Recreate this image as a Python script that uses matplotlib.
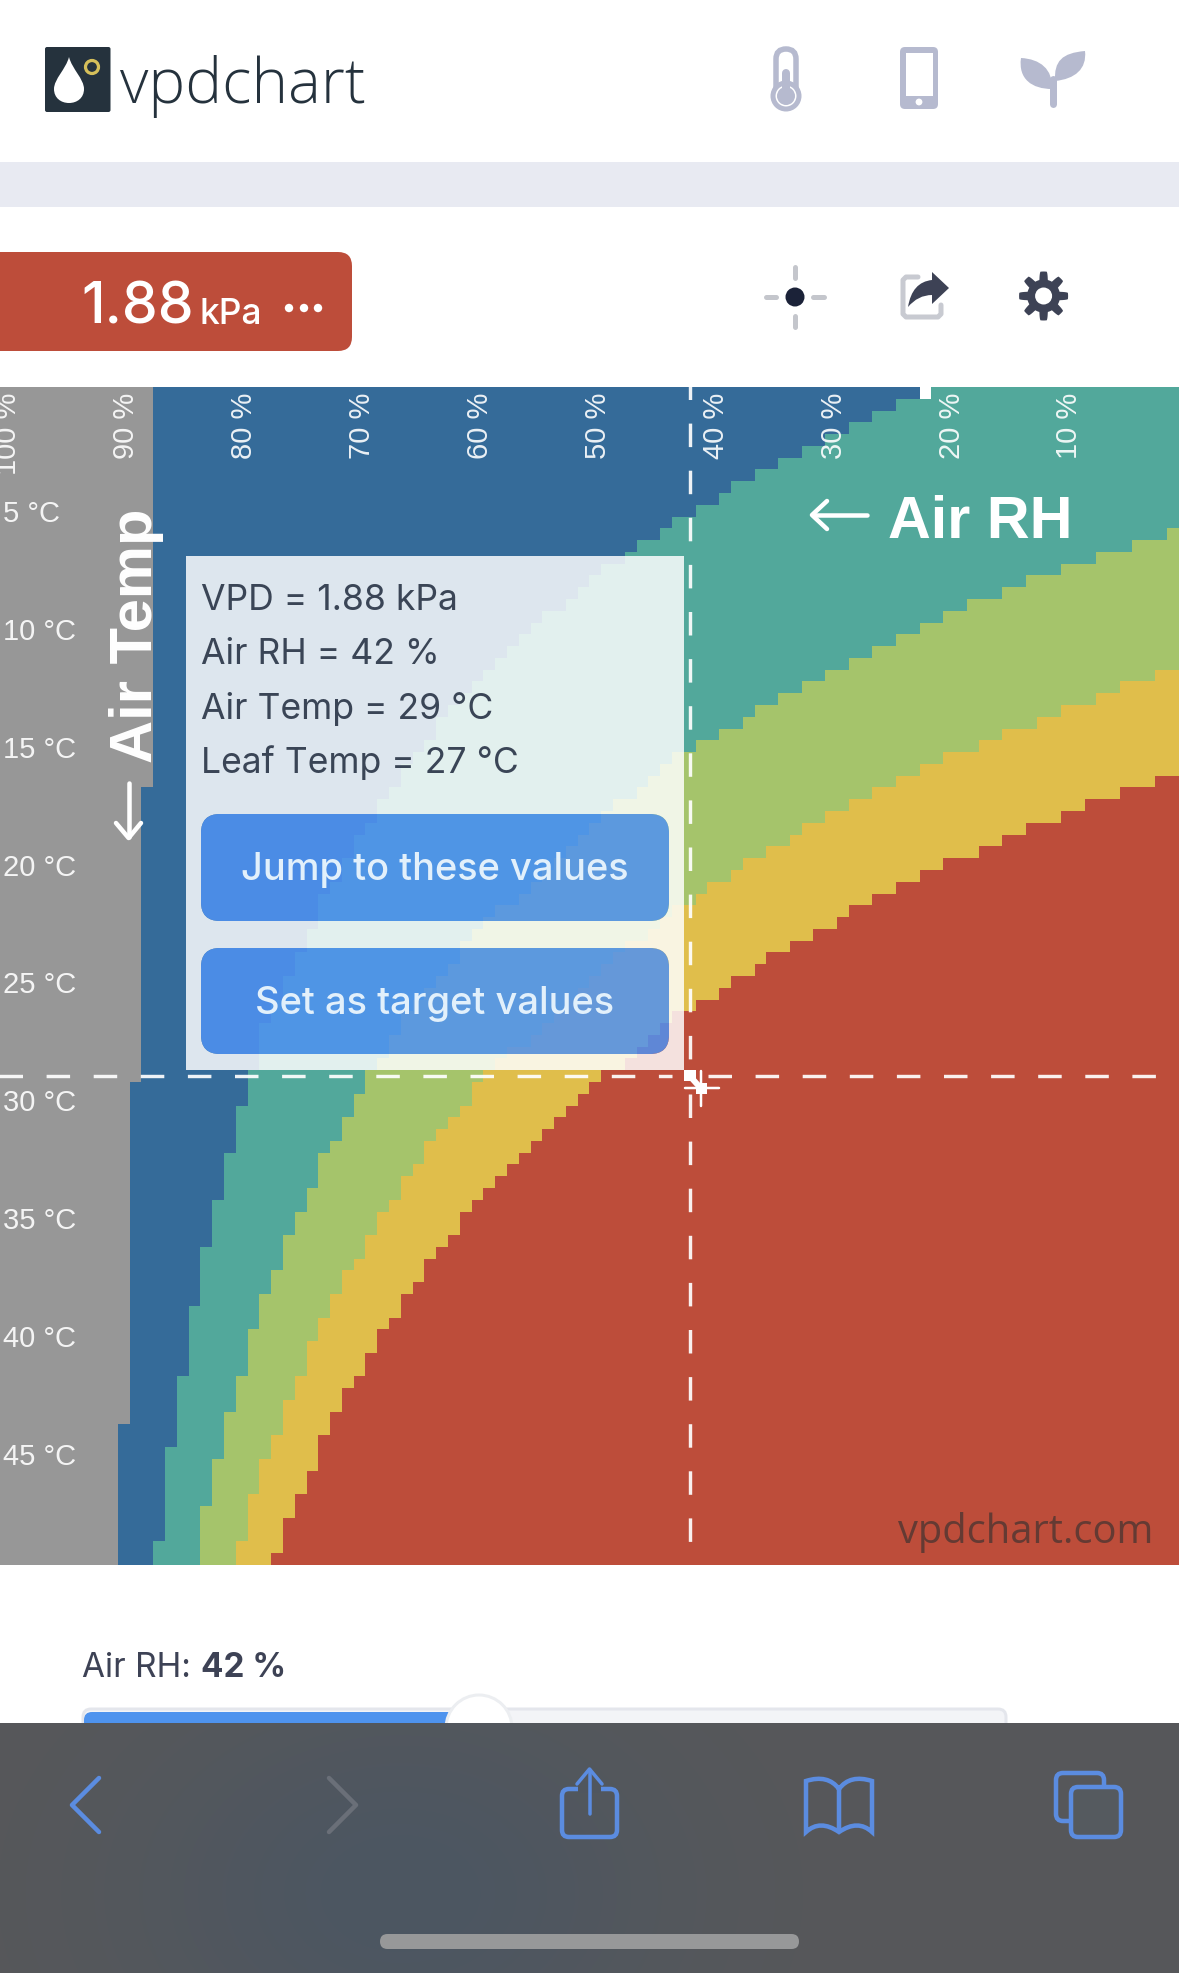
#!/bin/env python3
import numpy as np
import matplotlib
matplotlib.use('Agg')
import matplotlib.pyplot as plt
from matplotlib.colors import ListedColormap
from matplotlib.patches import Rectangle, Circle, FancyBboxPatch, PathPatch, BoxStyle
from matplotlib.path import Path
from matplotlib.transforms import ScaledTranslation

plt.rcParams['lines.scale_dashes'] = False

W, H = 1179, 1974
PT = 0.72  # one screen pixel in points at dpi 100

# first column of each band per row, left to right. one row = 0.5 C, one column = 1 % RH
blue_start = [13]*34 + [12]*25 + [11]*29 + [10]*12
teal_start = [78, 76, 74, 72, 70, 68, 66, 64, 62, 61, 59, 57, 56, 54, 53,
              51, 50, 49, 48, 46, 45, 44, 43, 42, 41, 40, 39, 38, 37, 37, 36, 35, 34, 34,
              33, 32, 32, 31, 30, 30, 29, 29, 28, 27, 27, 27, 26, 26, 25, 25, 24, 24, 23, 23,
              22, 22, 22, 22, 21, 21, 21, 20, 20, 20, 20, 19, 19, 19, 19, 18, 18, 18, 18,
              17, 17, 17, 17, 17, 16, 16, 16, 16, 16, 16, 15, 15, 15, 15, 15, 15,
              14, 14, 14, 14, 14, 14, 14, 14, 13, 13]
green_start = [100]*12 + [99, 96, 93, 90, 87, 85, 82, 80, 78, 76, 74, 72, 70, 68, 66, 64, 63, 61, 59, 57,
                          56, 55, 54, 52, 51, 50, 49, 48, 47, 46, 45, 44, 42, 41, 40, 39, 39, 38, 37, 36,
                          35, 34, 34, 33, 33, 32, 31, 31, 30, 30, 29, 29, 28, 27, 27, 27, 26, 26, 25, 25,
                          24, 24, 24, 23, 23, 22, 22, 22, 21, 21, 21, 21, 20, 20, 20, 19, 19, 19, 19,
                          18, 18, 18, 18, 17, 17, 17, 17, 17]
yellow_start = [100]*24 + [98, 95, 93, 90, 88, 85, 83, 80, 78, 76, 74, 72, 70, 68, 67, 65, 63, 62, 60, 59,
                           57, 56, 55, 53, 52, 51, 50, 49, 48, 47, 46, 45, 43, 42, 41, 40, 40, 39, 38, 37,
                           36, 36, 35, 34, 34, 33, 32, 32, 31, 31, 30, 29, 29, 28, 28, 27, 27, 26, 26, 26,
                           25, 25, 24, 24, 24, 23, 23, 22, 22, 22, 21, 21, 21, 21, 20, 20]
red_start = [100]*33 + [98, 95, 92, 90, 87, 85, 83, 80, 78, 76, 74, 72, 71, 69, 67, 65, 64, 62, 61, 59,
                        57, 56, 55, 54, 53, 51, 50, 49, 48, 47, 46, 45, 44, 43, 42, 41, 40, 39, 39, 38,
                        37, 36, 36, 35, 34, 34, 33, 32, 32, 31, 31, 30, 29, 29, 28, 28, 27, 27, 27,
                        26, 26, 25, 25, 24, 24, 24, 23]
blank_cells = [(0, 78)]  # the white cell on the top edge

band_colors = ['#979797', '#356b99', '#52a89b', '#a5c46b', '#e0be4b', '#bd4d3a', '#ffffff']

rh_ticks = [100, 90, 80, 70, 60, 50, 40, 30, 20, 10]
rh_labels = ['100 %', '90 %', '80 %', '70 %', '60 %', '50 %', '40 %', '30 %', '20 %', '10 %']
temp_ticks = [5, 10, 15, 20, 25, 30, 35, 40, 45]
temp_labels = ['5 °C', '10 °C', '15 °C', '20 °C', '25 °C', '30 °C', '35 °C', '40 °C', '45 °C']

vpd_value = 1.88
air_rh = 42
air_temp = 29
leaf_temp = 27

grid = np.zeros((100, 100), dtype=int)
for level, starts in enumerate([blue_start, teal_start, green_start, yellow_start, red_start], start=1):
    for row, col in enumerate(starts):
        grid[row, col:] = level
for row, col in blank_cells:
    grid[row, col] = 6

SANS = ['Liberation Sans', 'DejaVu Sans']
UI = ['Inter', 'DejaVu Sans']
LOGO = ['Open Sans', 'DejaVu Sans']

fig = plt.figure(figsize=(W/100, H/100), dpi=100, facecolor='white')

# heat map
chart_top, chart_bottom = 388, 1566
ax = fig.add_axes([0, 1 - chart_bottom/H, 1, (chart_bottom - chart_top)/H])
ax.imshow(grid, cmap=ListedColormap(band_colors), vmin=0, vmax=6, aspect='auto',
          interpolation='nearest', extent=[100.5, 0.5, 49.75, -0.25])
for side in ax.spines.values():
    side.set_visible(False)
ax.xaxis.tick_top()
ax.set_xticks(rh_ticks, rh_labels, rotation=90, fontsize=21, family=SANS, color='#ffffff', va='top', ha='center')
ax.set_yticks(temp_ticks, temp_labels, fontsize=21, family=SANS, color='#ffffff', ha='left', va='center')
ax.tick_params(axis='x', length=0, pad=-5*PT)
ax.tick_params(axis='y', length=0, pad=-3*PT)
for lab in ax.get_xticklabels() + ax.get_yticklabels():
    lab.set_alpha(0.9)
for lab in ax.get_xticklabels():
    lab.set_transform(lab.get_transform() + ScaledTranslation(2.5/100, 0, fig.dpi_scale_trans))
for lab in ax.get_yticklabels():
    lab.set_transform(lab.get_transform() + ScaledTranslation(0, -2.5/100, fig.dpi_scale_trans))

# everything else is placed in screen pixels
ov = fig.add_axes([0, 0, 1, 1], zorder=5)
ov.set_xlim(0, W)
ov.set_ylim(H, 0)
ov.axis('off')
ov.patch.set_alpha(0)


def round_box(x0, y0, x1, y1, r, **kw):
    box = FancyBboxPatch((x0, y0), x1 - x0, y1 - y0, boxstyle=f'round,pad=0,rounding_size={r}', linewidth=kw.pop('lw', 0), **kw)
    ov.add_patch(box)
    return box


def stroke(xs, ys, color, width, cap='round', **kw):
    ov.plot(xs, ys, color=color, lw=width*PT, solid_capstyle=cap, solid_joinstyle='round', **kw)


def curve(verts, codes, **kw):
    ov.add_patch(PathPatch(Path(verts, codes), linewidth=kw.pop('lw', 0), **kw))


M, L, C3, C4, Z = Path.MOVETO, Path.LINETO, Path.CURVE3, Path.CURVE4, Path.CLOSEPOLY

# header
ov.add_patch(Rectangle((0, 163), W, 45, fc='#e8eaf2', ec='none'))
round_box(45, 48, 110.5, 113, 2, fc='#25323d')
curve([(69, 58), (72, 70), (84, 80), (84, 90), (84, 99), (77, 104), (69, 104), (61, 104), (54, 99), (54, 90),
       (54, 80), (66, 70), (69, 58)],
      [M, C4, C4, C4, C4, C4, C4, C4, C4, C4, C4, C4, C4], fc='white')
ov.add_patch(Circle((92, 68), 6.5, fc='none', ec='#d5bf5a', lw=3.2*PT))
ov.text(120, 103, 'vpdchart', fontsize=44.6, family=LOGO, color='#25323d', weight='light', va='baseline')

ICON = '#b6bacf'
# thermometer
round_box(776, 50, 796, 100, 10, fc='white', ec=ICON, lw=5.5*PT)
ov.add_patch(Circle((786, 97), 13, fc='white', ec=ICON, lw=5*PT))
stroke([786, 786], [74, 97], ICON, 8)
ov.add_patch(Circle((786, 97), 9, fc=ICON, ec='none'))
# phone
round_box(900, 48, 938, 110, 5, fc=ICON)
ov.add_patch(Rectangle((906, 54), 27, 43, fc='white', ec='none'))
ov.add_patch(Circle((919, 103), 3.4, fc='white', ec='none'))
# sprout
stroke([1053, 1053], [80, 105], ICON, 7)
curve([(1021, 59), (1040, 60), (1053, 70), (1052, 90), (1032, 90), (1018, 80), (1021, 59)],
      [M, C4, C4, C4, C4, C4, C4], fc=ICON)
curve([(1085, 52), (1062, 54), (1054, 62), (1055, 82), (1075, 80), (1087, 70), (1085, 52)],
      [M, C4, C4, C4, C4, C4, C4], fc=ICON)

# reading box
round_box(-30, 253, 352, 352, 14, fc='#bd4d3a')
ov.text(81, 324, f'{vpd_value}', fontsize=41, family=UI, color='white', va='baseline', weight='medium')
ov.text(199, 324, 'kPa', fontsize=25.5, family=UI, color='white', va='baseline', weight='medium')
for dot_x in [289, 304, 318]:
    ov.add_patch(Circle((dot_x, 309), 4.2, fc='white', ec='none'))

# tool icons
for x0, y0, x1, y1 in [(795, 268, 795, 279), (795, 317, 795, 328), (766, 298, 776, 298), (813, 298, 824, 298)]:
    stroke([x0, x1], [y0, y1], '#c4c6cc', 5)
ov.add_patch(Circle((795, 298), 9.5, fc='#1b2238', ec='none'))

stroke([918, 906, 903, 903, 906, 938, 941, 941], [278, 278, 281, 315, 318, 318, 315, 306], '#c8cad1', 5)
curve([(949, 289), (932, 273), (932, 281), (912, 283), (908, 308), (918, 296), (932, 296), (932, 305), (949, 289)],
      [M, L, L, C3, C3, C3, C3, L, Z], fc='#3d4255')

gear_t = np.linspace(0, 2*np.pi, 241)
gear_r = 20.5 + 4.0*np.clip(2.2*np.cos(8*gear_t), -1, 1)
ov.fill(1043.6 + gear_r*np.sin(gear_t), 297 + gear_r*np.cos(gear_t), color='#3d4255', lw=0)
ov.add_patch(Circle((1043.6, 297), 8.5, fc='white', ec='none'))

# axis captions on the chart
ov.text(888, 538, 'Air RH', fontsize=42.7, family=SANS, weight='bold', color='white', va='baseline')
stroke([813, 867], [516, 516], 'white', 4.5)
stroke([827, 812, 827], [502, 516, 530], 'white', 4.5)
ov.text(152, 763, 'Air Temp', fontsize=43, family=SANS, weight='bold', color='white', rotation=90,
        rotation_mode='anchor', ha='left', va='baseline')
stroke([128.6, 128.6], [784, 838], 'white', 4.5)
stroke([116, 128.6, 141], [824, 839, 824], 'white', 4.5)
ov.text(1153, 1532.5, 'vpdchart.com', fontsize=28.7, family=LOGO, color='#643a33', ha='right', va='center')

# crosshair, from the selected values
cell = W/100
rh_x = (100 - air_rh + 0.5)*cell
temp_y = chart_top + (air_temp*2 + 0.5)*(chart_bottom - chart_top)/100
DASH = (0, (23.5*PT, 23.6*PT))
CROSS_W = 3.4*PT
ov.plot([-12.7, rh_x - 17.5], [temp_y, temp_y], color='white', lw=CROSS_W, ls=DASH, dash_capstyle='butt', alpha=0.92)
ov.plot([rh_x + 18, rh_x + 466], [temp_y, temp_y], color='white', lw=CROSS_W, ls=DASH, dash_capstyle='butt', alpha=0.92)
ov.plot([rh_x, rh_x], [chart_top - 11.4, temp_y - 17], color='white', lw=CROSS_W, ls=DASH, dash_capstyle='butt', alpha=0.92)
ov.plot([rh_x, rh_x], [temp_y + 18, chart_bottom - 22], color='white', lw=CROSS_W, ls=DASH, dash_capstyle='butt', alpha=0.92)
ov.add_patch(Rectangle((rh_x - 6, temp_y - 6), 12, 11, fc='white', ec='none'))
stroke([rh_x + 11, rh_x + 2], [temp_y + 12, temp_y + 2], 'white', 6)
stroke([rh_x - 5, rh_x + 29], [temp_y + 12, temp_y + 12], 'white', 2.5)
stroke([rh_x + 11.5, rh_x + 11.5], [temp_y - 5, temp_y + 30], 'white', 2.5)
ov.add_patch(Rectangle((rh_x + 6, temp_y + 7), 11, 11, fc='white', ec='none'))

# tooltip, see-through as one group: the panel has holes where the buttons sit
panel = (186, 557, 684, 1071)
button_boxes = [(201, 815, 669, 922), (201, 949, 669, 1055)]
paths = [Path([(panel[0], panel[1]), (panel[0], panel[3]), (panel[2], panel[3]), (panel[2], panel[1]), (panel[0], panel[1])],
              [M, L, L, L, Z])]
for x0, y0, x1, y1 in button_boxes:
    paths.append(BoxStyle.Round(pad=0, rounding_size=19)(x0, y0, x1 - x0, y1 - y0, 1))
ov.add_patch(PathPatch(Path.make_compound_path(*paths), fc='white', ec='none', alpha=0.84))
for x0, y0, x1, y1 in button_boxes:
    round_box(x0, y0, x1, y1, 19, fc='#4f92f3', alpha=0.85)

TIP = '#3a4556'
tip_lines = [f'VPD = {vpd_value} kPa', f'Air RH = {air_rh} %', f'Air Temp = {air_temp} °C', f'Leaf Temp = {leaf_temp} °C']
for line, y in zip(tip_lines, [601, 655, 709, 763]):
    ov.text(201, y, line, fontsize=25.6, family=UI, color=TIP, va='center')
ov.text(435, 870, 'Jump to these values', fontsize=27.4, family=UI, color='#e2f0fb', ha='center', va='center', weight='medium')
ov.text(435, 1004, 'Set as target values', fontsize=27.4, family=UI, color='#e2f0fb', ha='center', va='center', weight='medium')

# slider under the chart
ov.text(82, 1677, 'Air RH:', fontsize=24, family=UI, color='#3d4255', va='baseline')
ov.text(201, 1677, f'{air_rh} %', fontsize=24, family=UI, color='#3d4255', va='baseline', weight='bold')
round_box(83, 1710, 1006, 1740, 8, fc='#f3f4f7', ec='#e4e6ec', lw=3*PT)
round_box(84, 1713, 460, 1740, 8, fc='#4e93ee')
ov.add_patch(Circle((479, 1729), 33, fc='white', ec='#eceef1', lw=3*PT))

# browser bar
bar_y, bar_x = np.mgrid[0:250, 0:W]
tint = np.exp(-((bar_x - 400)/260.0)**2 - ((bar_y - 170)/190.0)**2)[..., None]
bar_rgb = (np.array([87, 88, 90])*(1 - tint) + np.array([76, 86, 98])*tint)/255.0
ov.imshow(bar_rgb, extent=[0, W, 1974, 1724], aspect='auto', interpolation='bilinear', zorder=3)
ov.set_xlim(0, W)
ov.set_ylim(H, 0)

TOOL = '#5b8ce0'
stroke([99, 72, 99], [1779, 1806, 1833], TOOL, 4.5, zorder=4)
stroke([329, 356, 329], [1779, 1806, 1833], '#6a6f78', 4.5, zorder=4)
round_box(562, 1790, 617, 1838, 7, fc='none', ec=TOOL, lw=4.5*PT, zorder=4)
ov.add_patch(Rectangle((578, 1782), 23, 12, fc='#50565e', ec='none', zorder=4))
stroke([589.5, 589.5], [1771, 1815], TOOL, 3.5, zorder=4)
stroke([577, 589.5, 602], [1785, 1770, 1785], TOOL, 3.5, zorder=4)
curve([(839, 1790), (828, 1775), (806, 1782), (806, 1797), (806, 1833), (820, 1820), (839, 1833),
       (858, 1820), (872, 1833), (872, 1797), (872, 1782), (850, 1775), (839, 1790), (839, 1833)],
      [M, C3, C3, L, L, C3, C3, C3, C3, L, L, C3, C3, L], fc='none', ec=TOOL, lw=4.5*PT, zorder=4)
round_box(1056, 1774, 1104, 1822, 7, fc='none', ec=TOOL, lw=4.5*PT, zorder=4)
round_box(1071, 1788, 1121, 1838, 7, fc='#555a5f', ec=TOOL, lw=4.5*PT, zorder=4)
round_box(380, 1935, 799, 1950, 7.5, fc='#979899', zorder=4)

fig.savefig('out.png', dpi=100, facecolor='white')
